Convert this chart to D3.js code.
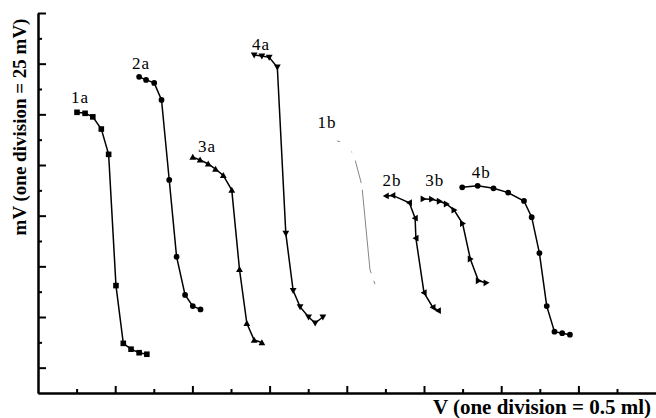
<!DOCTYPE html>
<html><head><meta charset="utf-8">
<script src="https://cdn.jsdelivr.net/npm/d3@7"></script>
<style>body{margin:0;background:#fff}svg{display:block}</style>
</head><body>
<svg id="c" width="656" height="418"></svg>
<script>
// ---- data (x in axis divisions, y in axis divisions) ----
const s1a = [[1.01,11.08],[1.22,11.04],[1.42,10.90],[1.64,10.42],[1.83,9.42],[2.02,4.24],[2.21,1.96],[2.41,1.73],[2.62,1.59],[2.82,1.53]];
const s2a = [[2.62,12.48],[2.80,12.36],[3.01,12.24],[3.20,11.57],[3.40,8.41],[3.59,5.38],[3.81,3.87],[4.01,3.43],[4.21,3.30]];
const s3a = [[4.01,9.31],[4.20,9.20],[4.41,9.04],[4.60,8.84],[4.80,8.59],[5.02,8.01],[5.22,4.88],[5.41,2.75],[5.60,2.09],[5.80,1.99]];
const s4a = [[5.60,13.34],[5.80,13.30],[5.99,13.25],[6.20,12.86],[6.42,6.30],[6.61,4.04],[6.79,3.40],[7.01,3.00],[7.18,2.76],[7.38,3.00]];
const s1b = [[7.75,9.95],[7.85,9.90],[8.13,9.51],[8.22,9.17],[8.39,8.20],[8.60,4.87],[8.73,4.30]];
const s2b = [[9.02,7.78],[9.19,7.80],[9.62,7.51],[9.77,6.90],[9.79,6.11],[10.00,3.96],[10.23,3.38],[10.37,3.25]];
const s3b = [[9.98,7.66],[10.20,7.65],[10.40,7.57],[10.58,7.46],[10.78,7.22],[11.00,6.69],[11.20,5.29],[11.41,4.43],[11.61,4.35]];
const s4b = [[10.99,8.12],[11.39,8.18],[11.80,8.08],[12.18,7.91],[12.59,7.58],[12.79,6.94],[12.99,5.52],[13.18,3.43],[13.38,2.42],[13.58,2.36],[13.78,2.30]];
const seriesNames = ["1a","2a","3a","4a","1b","2b","3b","4b"];
const seriesData = [s1a,s2a,s3a,s4a,s1b,s2b,s3b,s4b];
const seriesMarkers = ["square","circle","triUp","triDown","none","triLeft","triRight","circle"];
const labelAnchors = [[1.09,11.45],[2.67,12.79],[4.38,9.51],[5.78,13.54],[7.49,10.46],[9.17,8.17],[10.28,8.17],[11.48,8.49]];
const xMajorTicks = [2,4,6,8,10,12,14];
const xMinorTicks = [1,3,5,7,9,11,13,15];
const yMajorTicks = [1,3,5,7,9,11,13,15];
const yMinorTicks = [2,4,6,8,10,12,14];
const xTitle = "V (one division = 0.5 ml)";
const yTitle = "mV (one division = 25 mV)";

// ---- drawing ----
const svg = d3.select("#c");
const x = d3.scaleLinear().domain([0,16]).range([38,655.6]);
const y = d3.scaleLinear().domain([0,15]).range([393,13]);

function axisStyle(g){
  g.selectAll("path.domain").attr("stroke","#000").attr("stroke-width",2);
  g.selectAll(".tick line").attr("stroke","#000").attr("stroke-width",2);
  g.selectAll(".tick text").remove();
}
svg.append("g").attr("transform",`translate(0,${y(0)})`)
  .call(d3.axisBottom(x).tickValues(xMajorTicks).tickSize(-7).tickSizeOuter(0)).call(axisStyle);
svg.append("g").attr("transform",`translate(0,${y(0)})`)
  .call(d3.axisBottom(x).tickValues(xMinorTicks).tickSize(-4).tickSizeOuter(0)).call(axisStyle);
svg.append("g").attr("transform",`translate(${x(0)},0)`)
  .call(d3.axisLeft(y).tickValues(yMajorTicks).tickSize(-8).tickSizeOuter(0)).call(axisStyle);
svg.append("g").attr("transform",`translate(${x(0)},0)`)
  .call(d3.axisLeft(y).tickValues(yMinorTicks).tickSize(-4).tickSizeOuter(0)).call(axisStyle);

const line = d3.line().x(d=>x(d[0])).y(d=>y(d[1]));

function markerPath(type){
  const s = 2.8;
  switch(type){
    case "square": return `M${-s},${-s}h${2*s}v${2*s}h${-2*s}Z`;
    case "circle": return d3.symbol(d3.symbolCircle, 26)();
    case "triUp": return `M0,${-3.4}L3.4,2.6L-3.4,2.6Z`;
    case "triDown": return `M0,3.4L3.4,-2.6L-3.4,-2.6Z`;
    case "triLeft": return `M-3.4,0L2.6,3.4L2.6,-3.4Z`;
    case "triRight": return `M3.4,0L-2.6,3.4L-2.6,-3.4Z`;
  }
  return null;
}

seriesData.forEach((data,i)=>{
  const m = seriesMarkers[i];
  const g = svg.append("g");
  const p = g.append("path").attr("d",line(data)).attr("fill","none");
  if(m==="none"){
    p.attr("stroke","#777").attr("stroke-width",0.9).attr("stroke-dasharray","3,15,1,9,23,7,84,8,5");
  } else {
    p.attr("stroke","#000").attr("stroke-width",1.5);
    g.selectAll("path.m").data(data).join("path").attr("class","m")
      .attr("d",markerPath(m)).attr("fill","#000")
      .attr("transform",d=>`translate(${x(d[0])},${y(d[1])})`);
  }
  svg.append("text").attr("x",x(labelAnchors[i][0])).attr("y",y(labelAnchors[i][1]))
    .attr("text-anchor","middle").attr("font-family","Liberation Serif").attr("font-size",17)
    .attr("letter-spacing",1).attr("fill","#000").text(seriesNames[i]);
});

svg.append("text").attr("x",651).attr("y",414).attr("text-anchor","end")
  .attr("font-family","Liberation Serif").attr("font-weight","bold").attr("font-size",21)
  .text(xTitle);
svg.append("text").attr("transform","translate(26,127) rotate(-90)").attr("text-anchor","middle")
  .attr("font-family","Liberation Serif").attr("font-weight","bold").attr("font-size",19)
  .text(yTitle);
</script>
</body></html>
